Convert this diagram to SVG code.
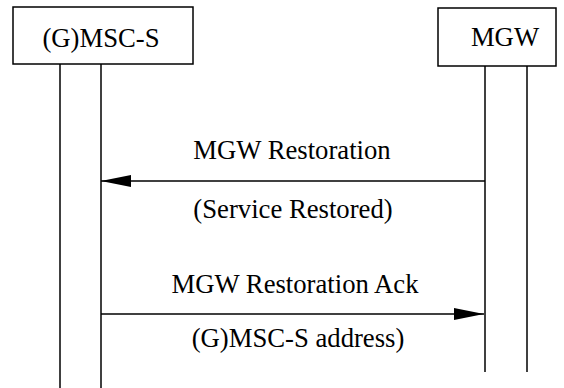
<svg xmlns="http://www.w3.org/2000/svg" width="564" height="388" viewBox="0 0 564 388">
<defs>
<marker id="ah" markerWidth="30" markerHeight="12" refX="30" refY="6" orient="auto" markerUnits="userSpaceOnUse">
<path d="M0,0 L30,6 L0,12 Z" fill="#000"/>
</marker>
<style>
.box{fill:#fff;stroke:#000;stroke-width:1.5}
.life{stroke:#000;stroke-width:1.5;fill:none}
.msg{stroke:#000;stroke-width:1.5;fill:none;marker-end:url(#ah)}
.t{font-size:26.7px;fill:#000;text-anchor:middle}
</style>
</defs>
<rect width="564" height="388" fill="#fff"/>
<g id="msc" font-family="'Liberation Serif', 'Times New Roman', 'DejaVu Serif', serif">
<rect class="box" x="13" y="7" width="180" height="57"/>
<text class="t" x="101" y="47">(G)MSC-S</text>
<line class="life" x1="60" y1="64" x2="60" y2="388"/>
<line class="life" x1="101" y1="64" x2="101" y2="388"/>
</g>
<g id="mgw" font-family="'Liberation Serif', 'Times New Roman', 'DejaVu Serif', serif">
<rect class="box" x="438" y="8" width="118" height="58"/>
<text class="t" x="505" y="46">MGW</text>
<line class="life" x1="485" y1="66" x2="485" y2="372"/>
<line class="life" x1="527" y1="66" x2="527" y2="372"/>
</g>
<g id="connectors" font-family="'Liberation Serif', 'Times New Roman', 'DejaVu Serif', serif">
<line class="msg" x1="485" y1="181" x2="101" y2="181"/>
<text class="t" x="292" y="159">MGW Restoration</text>
<text class="t" x="293" y="218">(Service Restored)</text>
<line class="msg" x1="101" y1="314" x2="484" y2="314"/>
<text class="t" x="295" y="293">MGW Restoration Ack</text>
<text class="t" x="298" y="347">(G)MSC-S address)</text>
</g>
</svg>
